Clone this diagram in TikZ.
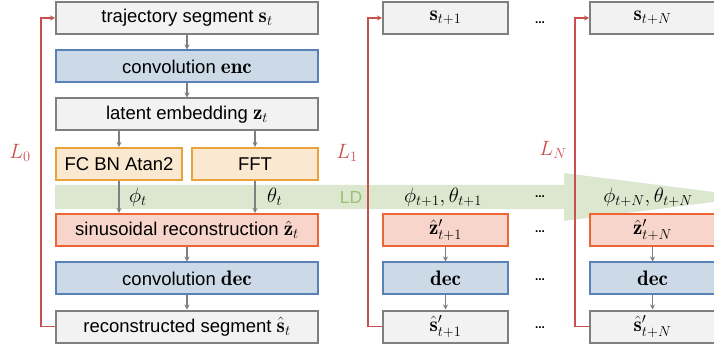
\documentclass[tikz,border=0pt]{standalone}
\usepackage{fontspec}
\setsansfont{Liberation Sans}
\usetikzlibrary{arrows.meta}

\definecolor{grayfill}{HTML}{F2F2F2}
\definecolor{grayline}{HTML}{7F7F7F}
\definecolor{bluefill}{HTML}{CCDAE8}
\definecolor{blueline}{HTML}{5A80B8}
\definecolor{goldfill}{HTML}{FAE8D0}
\definecolor{goldline}{HTML}{E9A23B}
\definecolor{redfill}{HTML}{F8D5CB}
\definecolor{redline}{HTML}{EE6535}
\definecolor{bandgreen}{HTML}{DCE7D0}
\definecolor{ldgreen}{HTML}{9DC072}
\definecolor{lossred}{HTML}{C9504F}

% math set a little larger than the surrounding sans text
\newcommand{\bigmath}[1]{{\fontsize{21}{24}\selectfont$#1$}}

\tikzset{
  block/.style={draw, line width=2pt, rectangle, minimum height=32pt,
    inner sep=0pt, font=\sffamily\fontsize{18.5}{21}\selectfont},
  graybox/.style={block, draw=grayline, fill=grayfill},
  bluebox/.style={block, draw=blueline, fill=bluefill},
  goldbox/.style={block, draw=goldline, fill=goldfill},
  redbox/.style={block, draw=redline, fill=redfill},
  wide/.style={minimum width=262pt},
  narrow/.style={minimum width=125pt},
  half/.style={minimum width=126pt},
  flow/.style={draw=grayline, line width=1.3pt, -{Stealth[length=5pt,width=5pt]}},
  loss/.style={draw=lossred, line width=1.6pt, -{Stealth[length=5pt,width=5pt]}},
  losslabel/.style={text=lossred, inner sep=0pt},
  mathlabel/.style={inner sep=0pt},
  dotlabel/.style={font=\sffamily\bfseries\fontsize{12}{14}\selectfont, inner sep=0pt},
}

\begin{document}
\begin{tikzpicture}[x=1pt, y=-1pt]
\useasboundingbox (0,0) rectangle (714,352);
\clip (0,0) rectangle (714,352);

% latent dynamics band with its arrowhead
\fill[bandgreen] (55,185) -- (564,185) -- (564,173) -- (753,197)
  -- (564,221) -- (564,209) -- (55,209) -- cycle;
\node[text=ldgreen, font=\sffamily\fontsize{17.5}{20}\selectfont, inner sep=0pt] (ld) at (351,197) {LD};

% first column: full autoencoder pipeline
\node[graybox, wide] (s0) at (187,18) {trajectory segment \bigmath{\mathbf{s}_t}};
\node[bluebox, wide] (enc) at (187,66.5) {convolution \bigmath{\mathbf{enc}}};
\node[graybox, wide] (z0) at (187,114.5) {latent embedding \bigmath{\mathbf{z}_t}};
\node[goldbox, half] (fc) at (119,164) {FC BN Atan2};
\node[goldbox, half] (fft) at (255,164) {FFT};
\node[redbox, wide] (zh0) at (187,230) {sinusoidal reconstruction \bigmath{\hat{\mathbf{z}}_t}};
\node[bluebox, wide] (dec0) at (187,278.5) {convolution \bigmath{\mathbf{dec}}};
\node[graybox, wide] (sh0) at (187,326.5) {reconstructed segment \bigmath{\hat{\mathbf{s}}_t}};

\draw[flow] (s0) -- (enc);
\draw[flow] (enc) -- (z0);
\draw[flow] (z0.south -| fc) -- (fc);
\draw[flow] (z0.south -| fft) -- (fft);
\draw[flow] (fc) -- (zh0.north -| fc);
\draw[flow] (fft) -- (zh0.north -| fft);
\draw[flow] (zh0) -- (dec0);
\draw[flow] (dec0) -- (sh0);

\node[mathlabel, anchor=west] (phi0) at (129,197) {\bigmath{\phi_t}};
\node[mathlabel, anchor=west] (theta0) at (267,197) {\bigmath{\theta_t}};

% second column: one step ahead
\node[graybox, narrow] (s1) at (445.5,18) {\bigmath{\mathbf{s}_{t+1}}};
\node[mathlabel] (pt1) at (443,197) {\bigmath{\phi_{t+1},\theta_{t+1}}};
\node[redbox, narrow] (zh1) at (445.5,230) {\bigmath{\hat{\mathbf{z}}'_{t+1}}};
\node[bluebox, narrow] (dec1) at (445.5,278.5) {\bigmath{\mathbf{dec}}};
\node[graybox, narrow] (sh1) at (445.5,326.5) {\bigmath{\hat{\mathbf{s}}'_{t+1}}};
\draw[flow] (zh1) -- (dec1);
\draw[flow] (dec1) -- (sh1);

% third column: N steps ahead
\node[graybox, narrow] (sN) at (652.5,18) {\bigmath{\mathbf{s}_{t+N}}};
\node[mathlabel] (ptN) at (648,197) {\bigmath{\phi_{t+N},\theta_{t+N}}};
\node[redbox, narrow] (zhN) at (652.5,230) {\bigmath{\hat{\mathbf{z}}'_{t+N}}};
\node[bluebox, narrow] (decN) at (652.5,278.5) {\bigmath{\mathbf{dec}}};
\node[graybox, narrow] (shN) at (652.5,326.5) {\bigmath{\hat{\mathbf{s}}'_{t+N}}};
\draw[flow] (zhN) -- (decN);
\draw[flow] (decN) -- (shN);

% ellipses between the prediction columns
\node[dotlabel] (d1) at (540,23) {...};
\node[dotlabel] (d2) at (540,197) {...};
\node[dotlabel] (d3) at (540,232) {...};
\node[dotlabel] (d4) at (540,280) {...};
\node[dotlabel] (d5) at (540,328) {...};

% reconstruction / prediction losses
\draw[loss] (sh0.west) -- ++(-14,0) |- (s0.west);
\draw[loss] (sh1.west) -- ++(-14,0) |- (s1.west);
\draw[loss] (shN.west) -- ++(-14,0) |- (sN.west);
\node[losslabel] (l0) at (20,153) {\bigmath{L_0}};
\node[losslabel] (l1) at (347,153) {\bigmath{L_1}};
\node[losslabel] (lN) at (553,150) {\bigmath{L_N}};
\end{tikzpicture}
\end{document}
